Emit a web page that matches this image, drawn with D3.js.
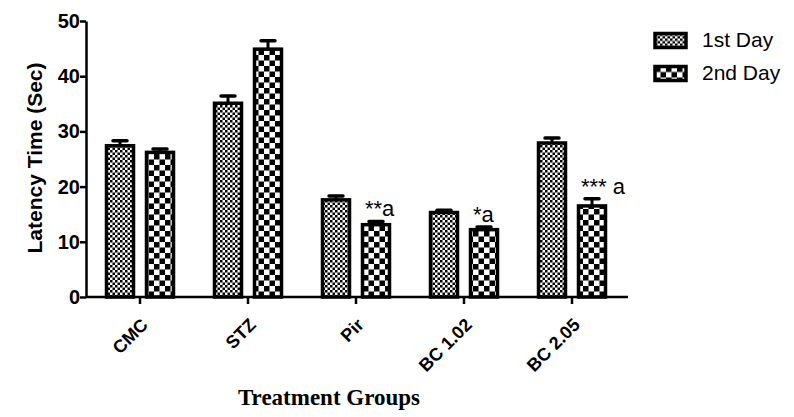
<!DOCTYPE html>
<meta charset="utf-8">
<style>
body { margin: 0; background: #fff; }
text { font-family: "Liberation Sans", Arial, sans-serif; }
</style>
<body>
<svg id="graph"></svg>
<script src="https://d3js.org/d3.v7.min.js"></script>
<script>

// data
var groups = ["CMC", "STZ", "Pir", "BC 1.02", "BC 2.05"];
var series = ["1st Day", "2nd Day"];
var day1 = [27.4, 35.1, 17.6, 15.3, 27.9];
var day1Err = [0.9, 1.3, 0.7, 0.4, 0.9];
var day2 = [26.2, 44.9, 13.1, 12.2, 16.5];
var day2Err = [0.6, 1.5, 0.6, 0.5, 1.3];
var notes = ["", "", "**a", "*a", "*** a"];
var yTicks = [0, 10, 20, 30, 40, 50];

var width = 794, height = 417;

var svg = d3.select("#graph")
    .attr("width", width)
    .attr("height", height);

// patterns: fine checker for day 1, coarse checker for day 2
var defs = svg.append("defs");
function checker(id, s) {
  var p = defs.append("pattern")
      .attr("id", id)
      .attr("patternUnits", "userSpaceOnUse")
      .attr("width", s * 2)
      .attr("height", s * 2);
  p.append("rect").attr("width", s * 2).attr("height", s * 2).attr("fill", "#fff");
  p.append("rect").attr("width", s).attr("height", s).attr("fill", "#000");
  p.append("rect").attr("x", s).attr("y", s).attr("width", s).attr("height", s).attr("fill", "#000");
}
checker("pat1", 2.5);
checker("pat2", 5.5);

// group spacing ~108px, first tick at 140
var x0 = d3.scaleBand()
    .domain(groups)
    .range([86, 86 + 108 * 5]);

var x1 = d3.scalePoint()
    .domain(series)
    .range([-20, 20]);

var y = d3.scaleLinear()
    .domain([0, 50])
    .range([297, 21]);

var barW = 27;
var fills = {"1st Day": "url(#pat1)", "2nd Day": "url(#pat2)"};

var rows = [];
groups.forEach(function(g, i) {
  rows.push({g: g, s: "1st Day", v: day1[i], e: day1Err[i]});
  rows.push({g: g, s: "2nd Day", v: day2[i], e: day2Err[i]});
});

function cx(d) { return x0(d.g) + x0.bandwidth() / 2 + x1(d.s); }

// error bars (upper only)
var err = svg.append("g").attr("stroke", "#000");
err.selectAll("line.v")
    .data(rows)
  .enter().append("line")
    .attr("x1", cx).attr("x2", cx)
    .attr("y1", function(d) { return y(d.v); })
    .attr("y2", function(d) { return y(d.v + d.e); })
    .attr("stroke-width", 3);
err.selectAll("line.c")
    .data(rows)
  .enter().append("line")
    .attr("x1", function(d) { return cx(d) - 7; })
    .attr("x2", function(d) { return cx(d) + 7; })
    .attr("y1", function(d) { return y(d.v + d.e); })
    .attr("y2", function(d) { return y(d.v + d.e); })
    .attr("stroke-width", 3.5)
    .attr("stroke-linecap", "round");

// bars
svg.append("g").selectAll("rect")
    .data(rows)
  .enter().append("rect")
    .attr("x", function(d) { return cx(d) - barW / 2; })
    .attr("y", function(d) { return y(d.v); })
    .attr("width", barW)
    .attr("height", function(d) { return y(0) - y(d.v); })
    .attr("fill", function(d) { return fills[d.s]; })
    .attr("stroke", "#000")
    .attr("stroke-width", 3.5);

// y axis
var yAxis = svg.append("g")
    .attr("transform", "translate(86,0)")
    .call(d3.axisLeft(y).tickValues(yTicks).tickSize(6).tickSizeOuter(0));
yAxis.select(".domain").attr("stroke-width", 2.5);
yAxis.selectAll(".tick line").attr("stroke-width", 2.5);
yAxis.selectAll(".tick text")
    .attr("x", -6)
    .style("font-size", "20px")
    .style("font-weight", "bold")
    .style("font-family", "Liberation Sans, Arial, sans-serif");

// x axis
var xAxis = svg.append("g")
    .attr("transform", "translate(0,297)")
    .call(d3.axisBottom(x0).tickSize(7).tickSizeOuter(0));
xAxis.select(".domain").attr("d", "M86,0H628").attr("stroke-width", 2.5);
xAxis.selectAll(".tick line").attr("stroke-width", 2.5);
xAxis.selectAll(".tick text")
    .attr("x", 0).attr("y", 0).attr("dy", 0)
    .attr("text-anchor", "end")
    .attr("transform", "translate(9,29) rotate(-45)")
    .style("font-size", "18px")
    .style("font-weight", "bold")
    .style("font-family", "Liberation Sans, Arial, sans-serif");

// significance notes
svg.append("g").selectAll("text")
    .data(groups)
  .enter().append("text")
    .attr("x", function(g, i) { return x0(g) + x0.bandwidth() / 2 + x1("2nd Day") - 11; })
    .attr("y", function(g, i) { return y(day2[i] + day2Err[i]) - 5; })
    .style("font-size", "22px")
    .text(function(g, i) { return notes[i]; });

// axis titles
svg.append("text")
    .attr("transform", "translate(42,158) rotate(-90)")
    .attr("text-anchor", "middle")
    .style("font-size", "21px")
    .style("font-weight", "bold")
    .text("Latency Time (Sec)");

svg.append("text")
    .attr("x", 329)
    .attr("y", 405)
    .attr("text-anchor", "middle")
    .style("font-family", "Liberation Serif, Times New Roman, serif")
    .style("font-size", "23px")
    .style("font-weight", "bold")
    .text("Treatment Groups");

// legend
var legend = svg.selectAll(".legend")
    .data(series)
  .enter().append("g")
    .attr("class", "legend")
    .attr("transform", function(d, i) { return "translate(655," + (33.5 + i * 33) + ")"; });

legend.append("rect")
    .attr("width", 31)
    .attr("height", 14)
    .attr("fill", function(d) { return fills[d]; })
    .attr("stroke", "#000")
    .attr("stroke-width", 3.5);

legend.append("text")
    .attr("x", 47)
    .attr("y", 13)
    .style("font-size", "21px")
    .text(function(d) { return d; });

</script>
</body>
